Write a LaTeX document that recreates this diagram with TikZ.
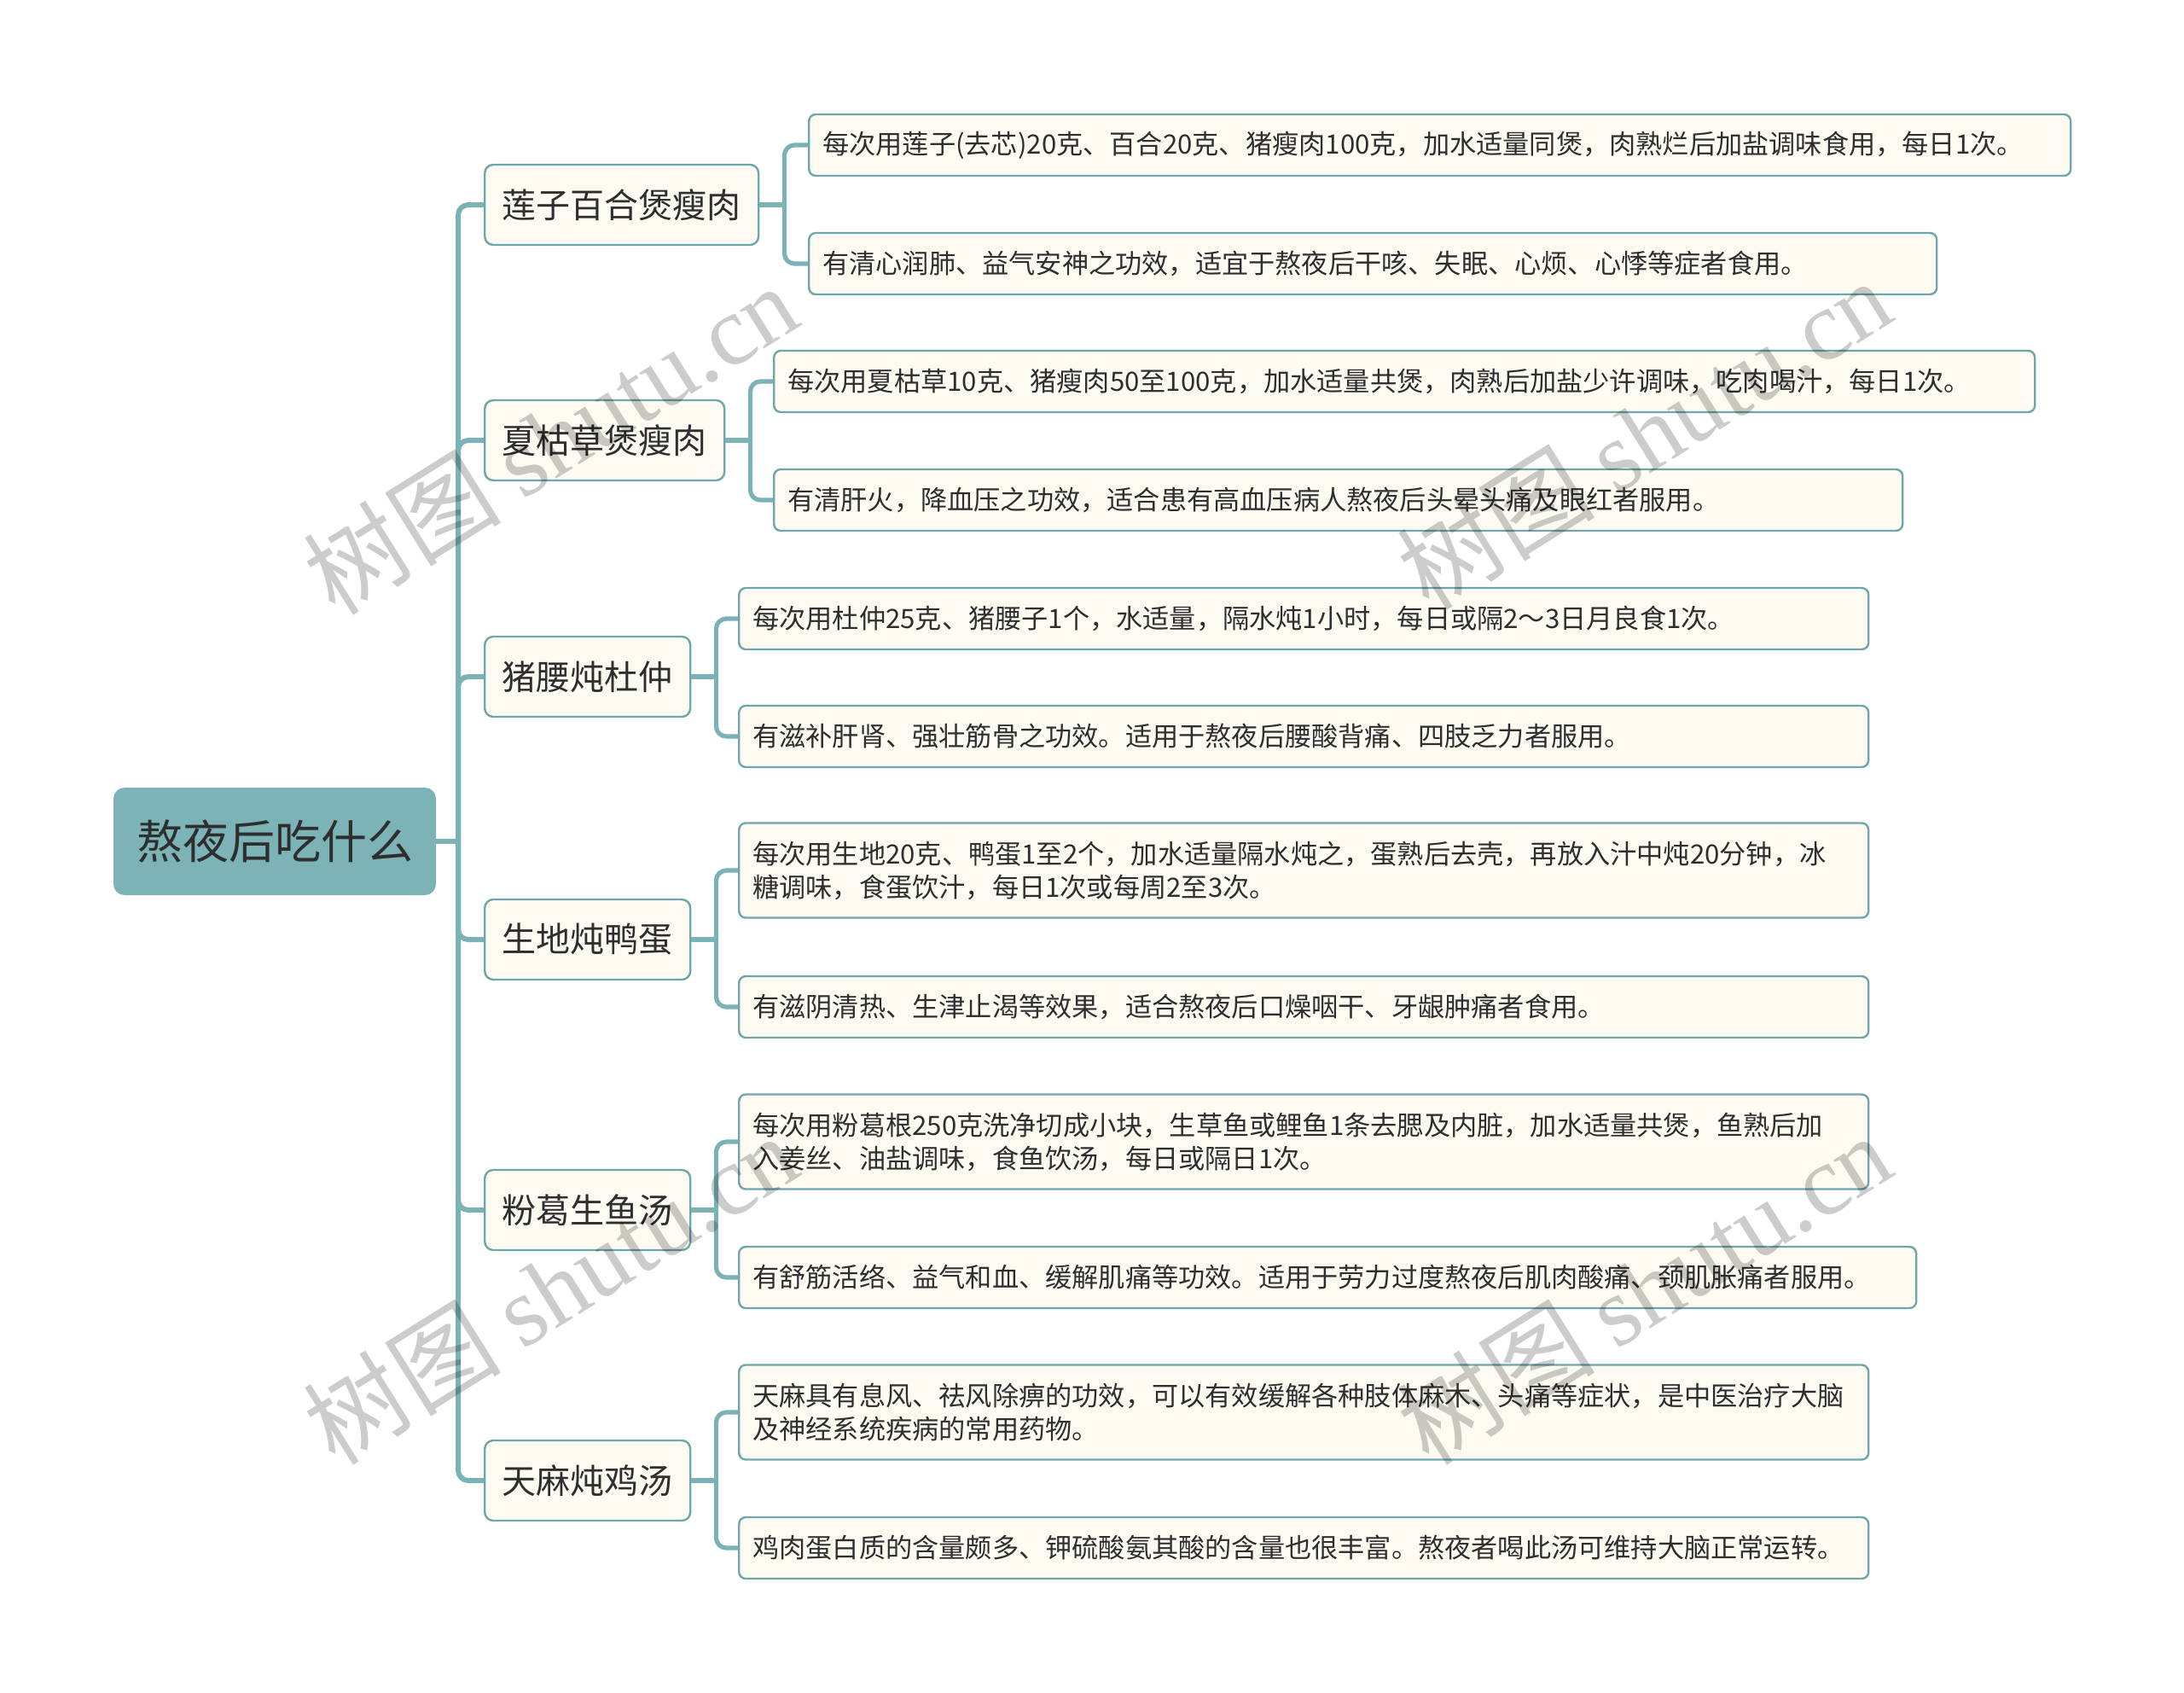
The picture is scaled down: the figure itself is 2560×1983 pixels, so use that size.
\documentclass[tikz,border=0pt]{standalone}
\usepackage{fontspec}
\setmainfont{Noto Sans CJK SC}
\newfontfamily\cjkfont{Noto Sans CJK SC}
\newfontfamily\wmlat{Liberation Serif}
\definecolor{tealfill}{HTML}{7BB3B7}
\definecolor{tealline}{HTML}{7AB2B6}
\definecolor{bord}{HTML}{6FA6AB}
\definecolor{cream}{HTML}{FCFAF1}
\definecolor{txt}{HTML}{2E2E2E}
\begin{document}
\begin{tikzpicture}[x=0.5pt,y=-0.5pt,
  rootbox/.style={draw=tealfill, fill=tealfill, rounded corners=6pt, line width=1pt,
    minimum width=188pt, minimum height=62pt, inner sep=0pt, text=txt,
    font=\fontsize{27}{32}\selectfont},
  branchbox/.style={draw=bord, fill=cream, rounded corners=5pt, line width=1.2pt,
    minimum height=47pt, inner xsep=10.25pt, inner ysep=0pt, text=txt,
    font=\fontsize{20}{24}\selectfont, anchor=west},
  leafbox/.style={draw=bord, fill=cream, rounded corners=4pt, line width=1.2pt,
    minimum height=36pt, inner xsep=8pt, inner ysep=0pt, text=txt,
    font=\fontsize{15.6}{19.5}\selectfont, align=left, anchor=west},
  twoline/.style={minimum height=55.5pt},
  trunk/.style={draw=tealline, line width=3pt, rounded corners=6pt},
  twig/.style={draw=tealline, line width=2.6pt, rounded corners=6pt},
  wm/.style={text=black, text opacity=0.2, font=\fontsize{58}{60}\selectfont, rotate=32, inner sep=0pt}
  ]
\useasboundingbox (0,0) rectangle (2560,1983);

% root
\node[rootbox] (root) at (322,986) {熬夜后吃什么};

% branches
\node[branchbox] (b1) at (567,240) {莲子百合煲瘦肉};
\node[branchbox] (b2) at (567,516) {夏枯草煲瘦肉};
\node[branchbox] (b3) at (567,793) {猪腰炖杜仲};
\node[branchbox] (b4) at (567,1101) {生地炖鸭蛋};
\node[branchbox] (b5) at (567,1418) {粉葛生鱼汤};
\node[branchbox] (b6) at (567,1735) {天麻炖鸡汤};

% leaves
\node[leafbox, text width=723.5pt] (l1a) at (947,170) {每次用莲子(去芯)20克、百合20克、猪瘦肉100克，加水适量同煲，肉熟烂后加盐调味食用，每日1次。};
\node[leafbox, text width=645pt] (l1b) at (947,309) {有清心润肺、益气安神之功效，适宜于熬夜后干咳、失眠、心烦、心悸等症者食用。};
\node[leafbox, text width=723pt] (l2a) at (906,447) {每次用夏枯草10克、猪瘦肉50至100克，加水适量共煲，肉熟后加盐少许调味，吃肉喝汁，每日1次。};
\node[leafbox, text width=645.5pt] (l2b) at (906,586) {有清肝火，降血压之功效，适合患有高血压病人熬夜后头晕头痛及眼红者服用。};
\node[leafbox, text width=646pt] (l3a) at (865,725) {每次用杜仲25克、猪腰子1个，水适量，隔水炖1小时，每日或隔2～3日月良食1次。};
\node[leafbox, text width=646pt] (l3b) at (865,863) {有滋补肝肾、强壮筋骨之功效。适用于熬夜后腰酸背痛、四肢乏力者服用。};
\node[leafbox, twoline, text width=646pt] (l4a) at (865,1020) {每次用生地20克、鸭蛋1至2个，加水适量隔水炖之，蛋熟后去壳，再放入汁中炖20分钟，冰\\糖调味，食蛋饮汁，每日1次或每周2至3次。};
\node[leafbox, text width=646pt] (l4b) at (865,1180) {有滋阴清热、生津止渴等效果，适合熬夜后口燥咽干、牙龈肿痛者食用。};
\node[leafbox, twoline, text width=646pt] (l5a) at (865,1338) {每次用粉葛根250克洗净切成小块，生草鱼或鲤鱼1条去腮及内脏，加水适量共煲，鱼熟后加\\入姜丝、油盐调味，食鱼饮汤，每日或隔日1次。};
\node[leafbox, text width=674pt] (l5b) at (865,1497) {有舒筋活络、益气和血、缓解肌痛等功效。适用于劳力过度熬夜后肌肉酸痛、颈肌胀痛者服用。};
\node[leafbox, twoline, text width=646pt] (l6a) at (865,1655) {天麻具有息风、祛风除痹的功效，可以有效缓解各种肢体麻木、头痛等症状，是中医治疗大脑\\及神经系统疾病的常用药物。};
\node[leafbox, text width=646pt] (l6b) at (865,1814) {鸡肉蛋白质的含量颇多、钾硫酸氨其酸的含量也很丰富。熬夜者喝此汤可维持大脑正常运转。};

% trunk connectors
\coordinate (t) at (537,986);
\draw[trunk, rounded corners=0pt] (root.east) -- (t);
\foreach \b in {b1,b2,b3,b4,b5,b6}{
  \draw[trunk] (t) |- (\b.west);
}

% branch to leaf connectors
\foreach \b/\la/\lb in {b1/l1a/l1b, b2/l2a/l2b, b3/l3a/l3b, b4/l4a/l4b, b5/l5a/l5b, b6/l6a/l6b}{
  \path (\b.east) ++(29,0) coordinate (j\b);
  \draw[twig, rounded corners=0pt] (\b.east) -- (j\b);
  \draw[twig] (j\b) |- (\la.west);
  \draw[twig] (j\b) |- (\lb.west);
}

% watermarks
\node[wm] (w1) at (645,514) {{\cjkfont 树图} {\wmlat shutu.cn}};
\node[wm] (w2) at (1927,508) {{\cjkfont 树图} {\wmlat shutu.cn}};
\node[wm] (w3) at (645,1510) {{\cjkfont 树图} {\wmlat shutu.cn}};
\node[wm] (w4) at (1927,1510) {{\cjkfont 树图} {\wmlat shutu.cn}};
\end{tikzpicture}
\end{document}
